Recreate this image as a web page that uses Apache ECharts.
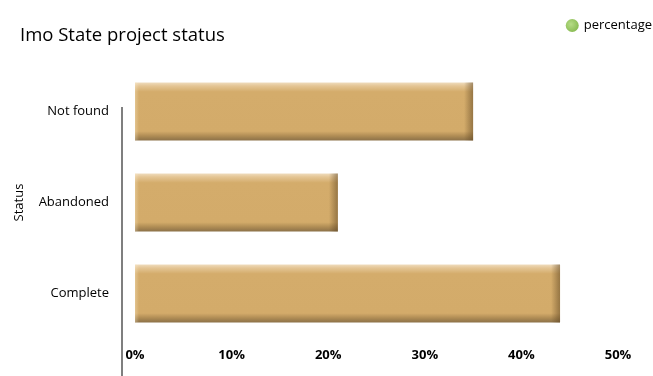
<!DOCTYPE html>
<html>
<head>
<meta charset="utf-8">
<script src="https://cdn.jsdelivr.net/npm/echarts@6/dist/echarts.min.js"></script>
<style>html,body{margin:0;padding:0;background:#fff}#c{width:653px;height:376px}</style>
</head>
<body>
<div id="c"></div>
<script>
const categories = ['Complete', 'Abandoned', 'Not found'];
const percentage = [44, 21, 35];
const xTicks = [0, 10, 20, 30, 40, 50];

const chart = echarts.init(document.getElementById('c'), null, {renderer: 'canvas'});
const FONT = '"Open Sans", "Noto Sans", sans-serif';

const vGrad = new echarts.graphic.LinearGradient(0, 0, 0, 1, [
  {offset: 0, color: '#efdcbd'},
  {offset: 0.06, color: '#e4c594'},
  {offset: 0.16, color: '#d4ac6b'},
  {offset: 0.84, color: '#d3ab6a'},
  {offset: 0.92, color: '#b08d55'},
  {offset: 1, color: '#8c7148'}
]);

chart.setOption({
  animation: false,
  title: {
    text: 'Imo State project status',
    left: 15, top: 21,
    textStyle: {fontFamily: FONT, fontSize: 18.5, fontWeight: 'normal', color: '#000'}
  },
  legend: {
    data: [{name: 'percentage', itemStyle: {color: new echarts.graphic.RadialGradient(0.4, 0.4, 0.6, [{offset: 0, color: '#b6dc86'}, {offset: 1, color: '#8bbd55'}])}}],
    right: 1, top: 19, padding: 0,
    icon: 'circle', itemWidth: 13, itemHeight: 13, itemGap: 5,
    textStyle: {fontFamily: FONT, fontSize: 13, color: '#000'}
  },
  grid: {left: 135, right: 35, top: 66, bottom: 37, containLabel: false},
  xAxis: {
    type: 'value', min: 0, max: 50, interval: 10,
    axisLine: {show: false}, axisTick: {show: false}, splitLine: {show: false},
    axisLabel: {
      margin: 10, fontFamily: FONT, fontSize: 13, fontWeight: 'bold', color: '#000',
      formatter: v => xTicks.indexOf(v) >= 0 ? v + '%' : ''
    }
  },
  yAxis: {
    type: 'category', data: categories,
    name: 'Status', nameLocation: 'middle', nameGap: 109, nameRotate: 90,
    nameTextStyle: {fontFamily: FONT, fontSize: 13, color: '#000'},
    axisLine: {show: false}, axisTick: {show: false},
    axisLabel: {margin: 26, fontFamily: FONT, fontSize: 13, color: '#000'}
  },
  graphic: [{
    type: 'line', shape: {x1: 122, y1: 107, x2: 122, y2: 376},
    style: {stroke: '#7f7f7f', lineWidth: 2}
  }],
  series: [{
    name: 'percentage', type: 'bar', data: percentage, barWidth: 58,
    itemStyle: {color: vGrad},
    z: 2
  }, {
    name: 'edge', type: 'bar', data: percentage, barWidth: 58, barGap: '-100%',
    silent: true, z: 3,
    itemStyle: {
      color: function (p) {
        const len = p.value / 50 * 483;
        const a = 1 - 9 / len, b = 1 - 2 / len;
        return new echarts.graphic.LinearGradient(0, 0, 1, 0, [
          {offset: 0, color: 'rgba(255,240,210,0.35)'},
          {offset: 4 / len, color: 'rgba(255,240,210,0)'},
          {offset: a, color: 'rgba(90,65,30,0)'},
          {offset: b, color: 'rgba(90,65,30,0.4)'},
          {offset: 1, color: 'rgba(90,65,30,0.5)'}
        ]);
      }
    }
  }]
});
</script>
</body>
</html>
